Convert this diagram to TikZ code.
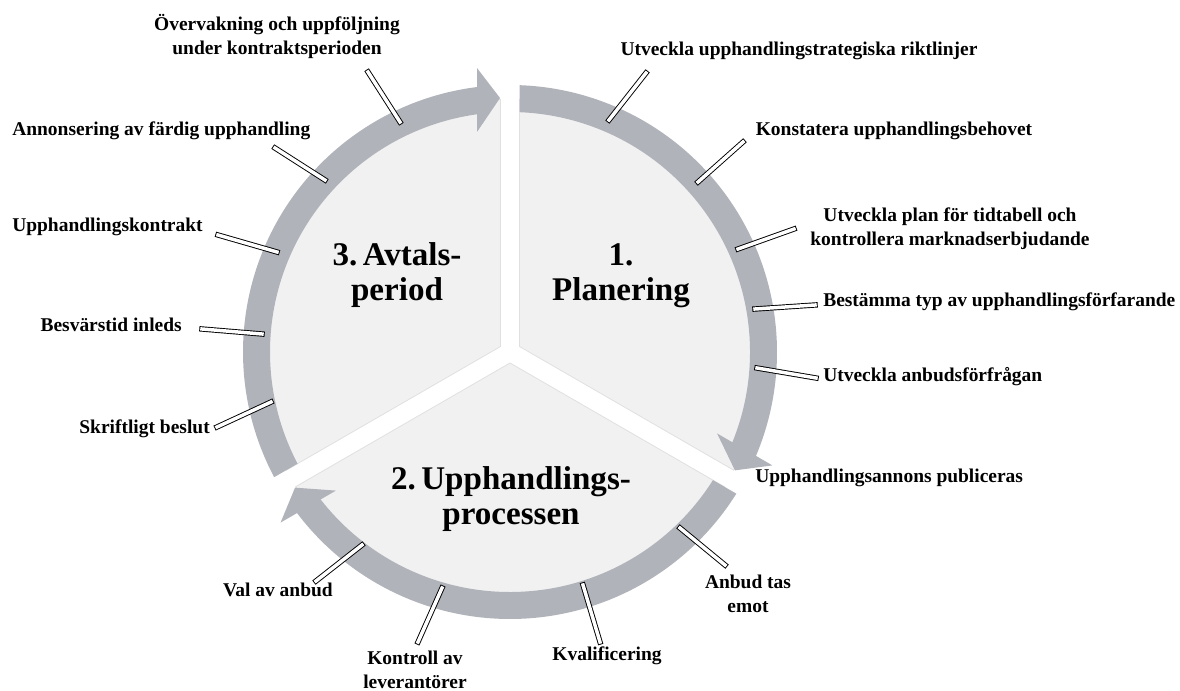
\documentclass[tikz,border=0pt]{standalone}
\usepackage{fontspec}
\setmainfont{Liberation Serif}
\usetikzlibrary{calc}
\definecolor{bandgray}{RGB}{176,179,186}
\definecolor{piefill}{RGB}{241,241,241}
\definecolor{pieedge}{RGB}{224,224,224}
\frenchspacing
\begin{document}
\begin{tikzpicture}[x=0.75pt,y=0.75pt,
  lbl/.style={font=\fontsize{14.6}{18}\selectfont\bfseries, inner sep=0pt, align=center},
  one/.style={text height=0.68em, text depth=0.2em},
  big/.style={font=\fontsize{24.8}{26.3}\selectfont\bfseries, inner sep=0pt, align=center},
  tickline/.style={draw=black, line width=0.7pt, double=white, double distance=2.6pt, line cap=rect}]
\useasboundingbox (0,0) rectangle (1180,-691);
\coordinate (C) at (510,-352);
% pies
\foreach \o in {0,-120,-240}{
  \filldraw[fill=piefill, draw=pieedge, line width=0.6pt]
    ($(C)+(150+\o:10.97)$) -- ($(C)+(207.85+\o:253)$)
    arc[start angle=207.85+\o, end angle=92.15+\o, radius=253] -- cycle;
}
% bands and arrowheads
\foreach \o in {0,-120,-240}{
  \fill[bandgray] ($(C)+(207.96+\o:267)$)
    arc[start angle=207.96+\o, end angle=97+\o, radius=267]
    -- ($(C)+(97+\o:240)$)
    arc[start angle=97+\o, end angle=207.73+\o, radius=240] -- cycle;
  \fill[bandgray] ($(C)+(96.63+\o:285.9)$) -- ($(C)+(92.25+\o:254.2)$)
    -- ($(C)+(98.53+\o:222.5)$) -- cycle;
}
% big labels
\node[big] (b1) at (621,-275.5) {1.\\Planering};
\node[big] (b3) at (397,-275.5) {3.\,Avtals-\\period};
\node[big] (b2) at (511,-499.5) {2.\,Upphandlings-\\processen};
% labels
\node[lbl,one] (l1) at (799,-52) {Utveckla upphandlingstrategiska riktlinjer};
\node[lbl,one] (l2) at (894,-132) {Konstatera upphandlingsbehovet};
\node[lbl] (l3) at (950,-228.5) {Utveckla plan för tidtabell och\\kontrollera marknadserbjudande};
\node[lbl,one,anchor=west] (l4) at (823,-303) {Bestämma typ av upphandlingsförfarande};
\node[lbl,one,anchor=west] (l5) at (823,-378) {Utveckla anbudsförfrågan};
\node[lbl,one,anchor=west] (l6) at (755,-479) {Upphandlingsannons publiceras};
\node[lbl] (l7) at (748,-593.5) {Anbud tas\\emot};
\node[lbl,one] (l8) at (607,-657) {Kvalificering};
\node[lbl] (l9) at (415,-669.5) {Kontroll av\\leverantörer};
\node[lbl,one,anchor=east] (l10) at (333,-593) {Val av anbud};
\node[lbl,one,anchor=east] (l11) at (210,-430) {Skriftligt beslut};
\node[lbl,one,anchor=east] (l12) at (182,-328) {Besvärstid inleds};
\node[lbl,one,anchor=west] (l13) at (12,-228) {Upphandlingskontrakt};
\node[lbl,one,anchor=west] (l14) at (12,-132) {Annonsering av färdig upphandling};
\node[lbl] (l15) at (277,-36.5) {Övervakning och uppföljning\\under kontraktsperioden};
% tick coordinates
\coordinate (t1a) at (609,-120);  \coordinate (t1b) at (646,-73);
\coordinate (t2a) at (698,-182);  \coordinate (t2b) at (743,-142);
\coordinate (t3a) at (738,-249);  \coordinate (t3b) at (794,-229);
\coordinate (t4a) at (755,-309);  \coordinate (t4b) at (815,-305);
\coordinate (t5a) at (757,-368);  \coordinate (t5b) at (816,-378);
\coordinate (t7a) at (680,-528);  \coordinate (t7b) at (725,-565);
\coordinate (t8a) at (583,-585);  \coordinate (t8b) at (600,-642);
\coordinate (t9a) at (442,-588);  \coordinate (t9b) at (418,-642);
\coordinate (t10a) at (362,-545); \coordinate (t10b) at (316,-581);
\coordinate (t11a) at (271,-402); \coordinate (t11b) at (217,-427);
\coordinate (t12a) at (262,-334); \coordinate (t12b) at (202,-329);
\coordinate (t13a) at (277,-252); \coordinate (t13b) at (218,-235);
\coordinate (t14a) at (325,-180); \coordinate (t14b) at (275,-148);
\coordinate (t15a) at (400,-122); \coordinate (t15b) at (368,-72);
\foreach \k in {1,2,3,4,5,7,8,9,10,11,12,13,14,15}{
  \draw[tickline] (t\k a) -- (t\k b);
}
\end{tikzpicture}
\end{document}
